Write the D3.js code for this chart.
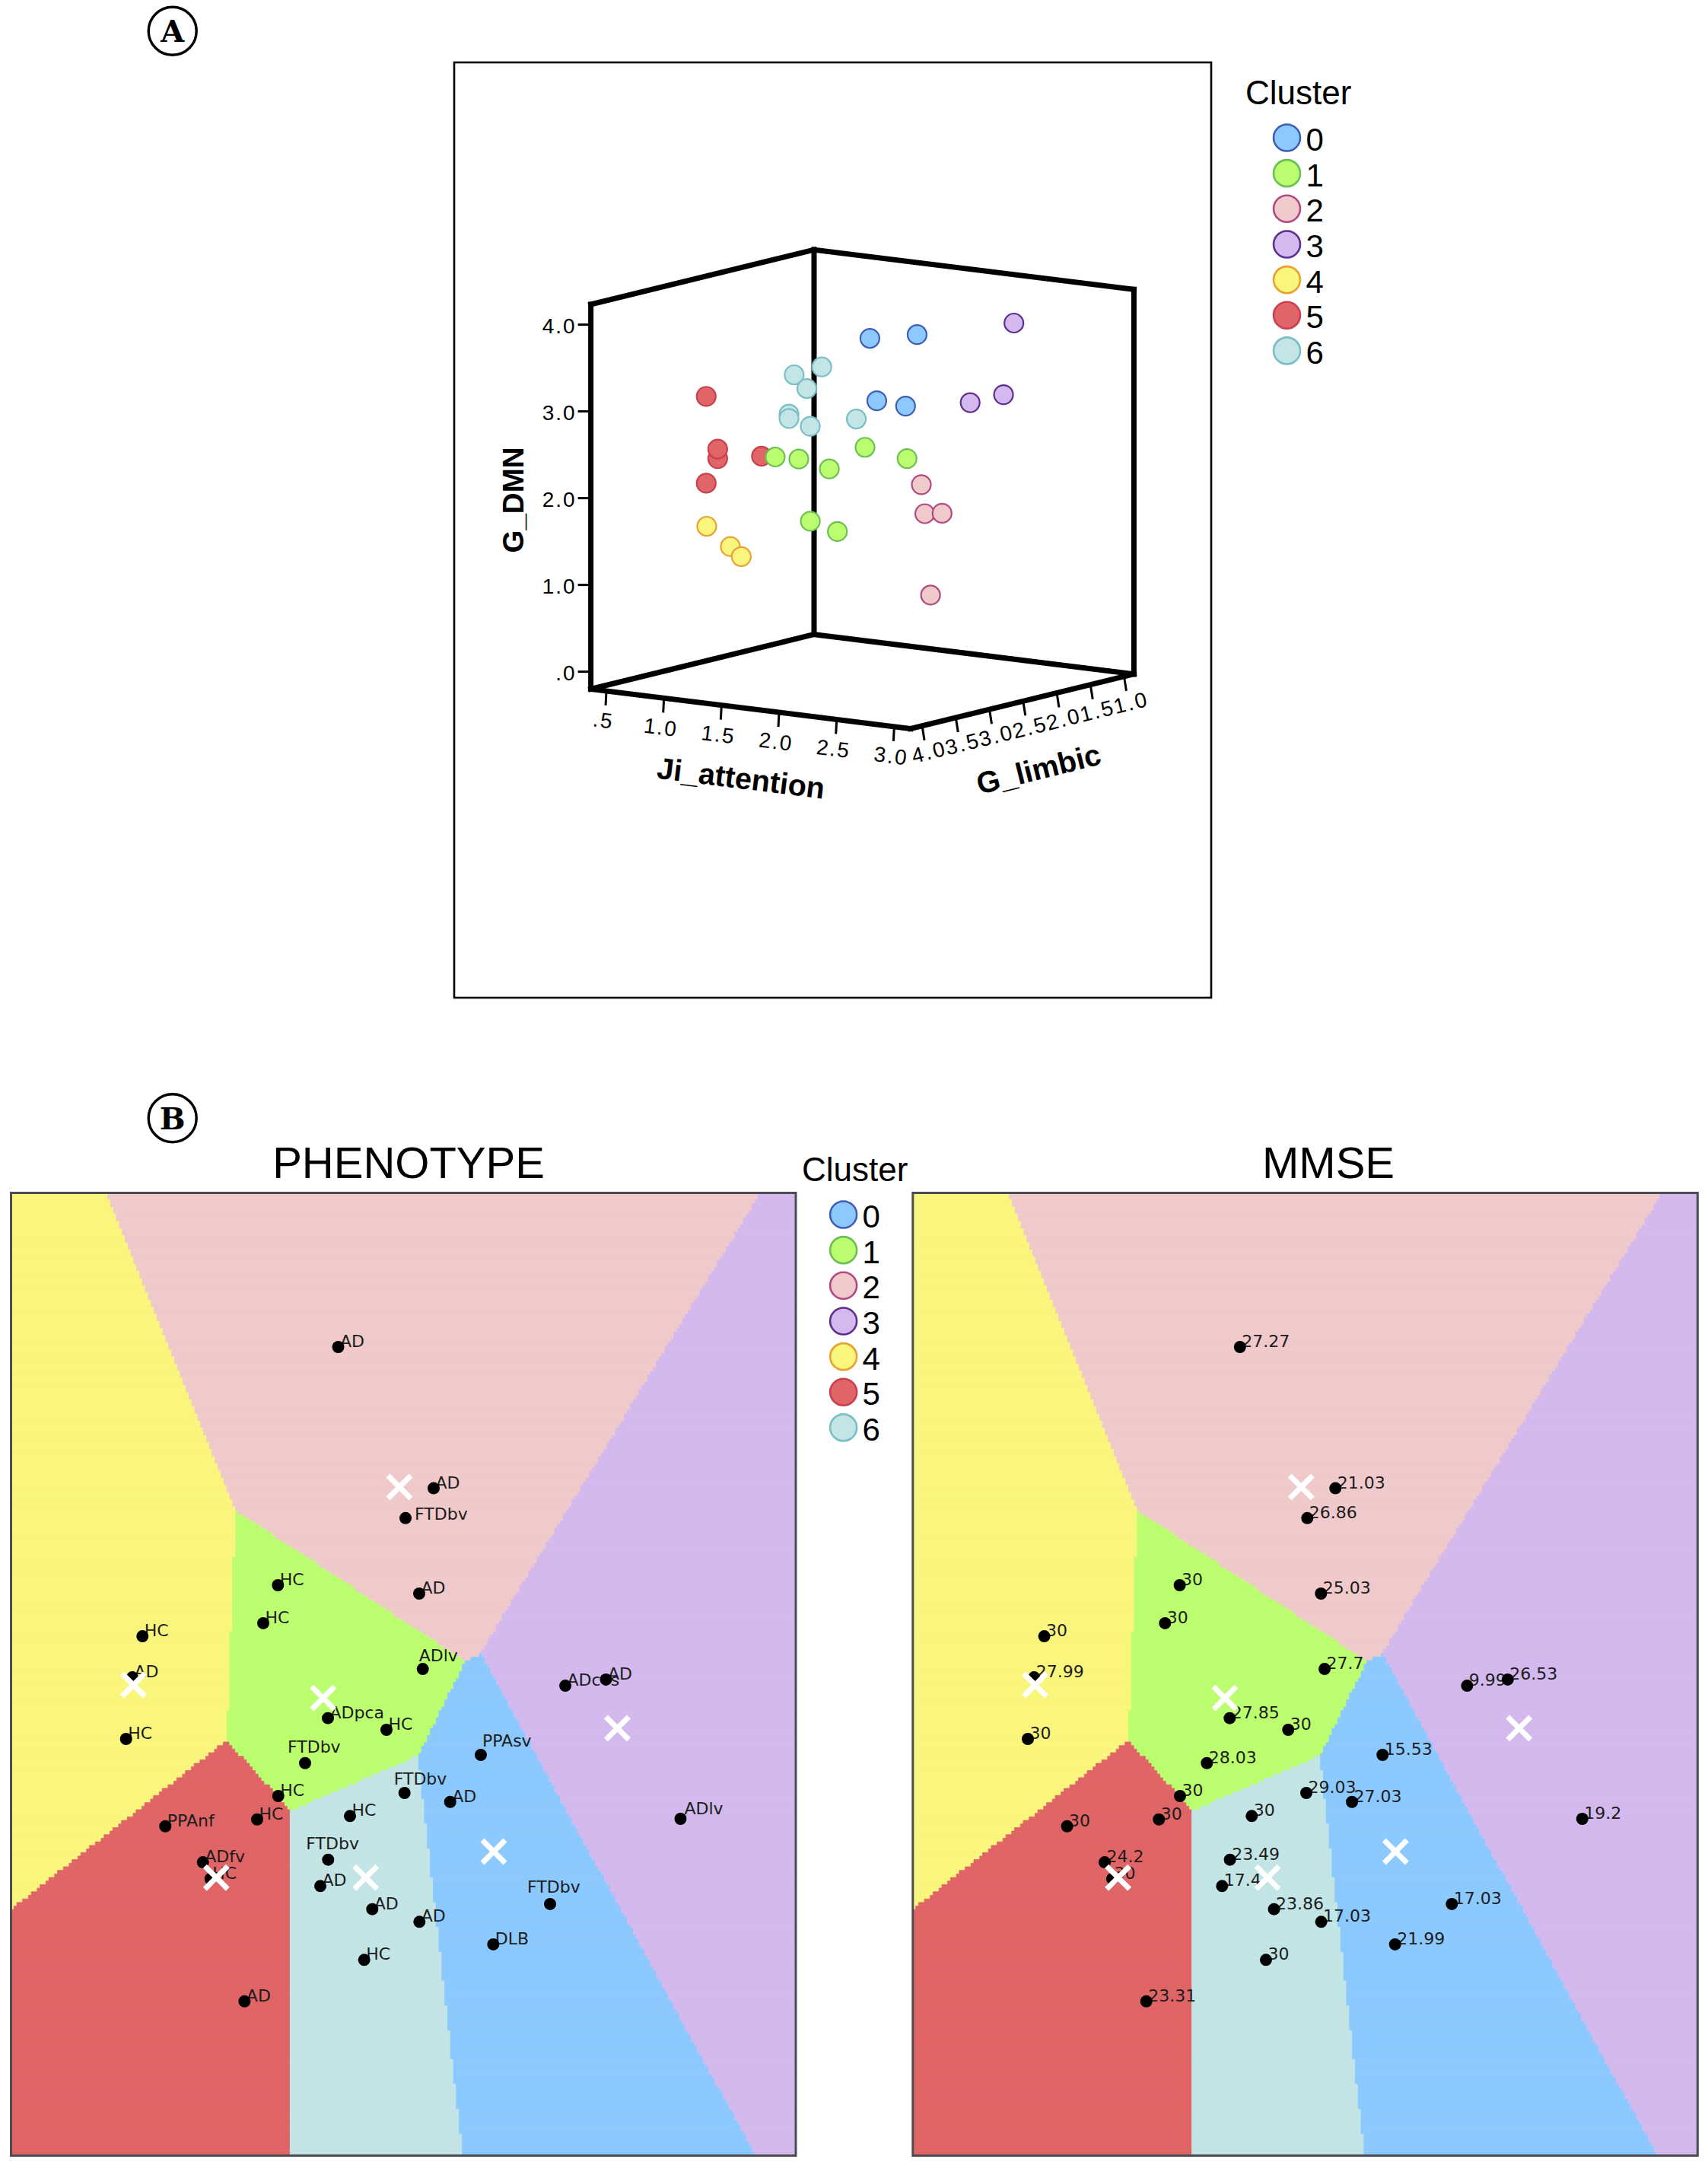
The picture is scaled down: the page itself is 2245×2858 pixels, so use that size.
<!DOCTYPE html>
<html><head><meta charset="utf-8">
<script src="https://cdn.jsdelivr.net/npm/d3@7/dist/d3.min.js"></script>
<style>html,body{margin:0;padding:0;background:#fff}svg{display:block}text{font-family:"Liberation Sans",Arial,sans-serif}</style>
</head><body><svg id="c" width="2245" height="2858" viewBox="0 0 2245 2858"></svg>
<script>
// ---------- data ----------
const clusterNames = [0,1,2,3,4,5,6];
const clusterFill   = ["#8CC9FF","#BBFF70","#F0CACB","#D3B9EE","#FAF67D","#E06566","#C3E5E6"];
const clusterStroke = ["#3F5FB5","#6DBF55","#B04A82","#5F2F90","#E8A232","#C9404F","#7BBFC6"];

// Panel A: 3D scatter
const scatterCluster   = [5,5,5,5,5,4,4,4,1,1,1,1,1,1,1,6,6,6,6,6,6,6,0,0,0,0,3,3,3,2,2,2,2];
const scatterAttention = [0.80,0.90,0.90,0.80,1.28,0.98,1.185,1.28,0.99,1.195,1.46,1.77,2.135,1.295,1.53,1.57,1.33,1.44,1.285,1.285,1.47,1.87,1.52,1.93,1.58,1.83,2.42,2.33,2.04,1.85,1.88,2.03,1.93];
const scatterLimbic    = [3.2,3.2,3.2,3.2,3.2,3.5,3.5,3.5,2.5,2.5,2.5,2.5,2.5,2.5,2.5,2.8,2.8,2.8,2.8,2.8,2.8,2.8,2.0,2.0,2.0,2.0,1.4,1.4,1.4,1.8,1.8,1.8,1.8];
const scatterDMN       = [3.06,2.36,2.47,2.06,2.45,1.65,1.45,1.35,2.26,2.27,2.20,2.50,2.43,1.57,1.49,3.45,3.32,3.18,2.86,2.81,2.75,2.90,3.62,3.73,2.91,2.89,3.83,2.99,2.85,1.95,1.62,1.65,0.69];
const attentionTicks = [0.5,1.0,1.5,2.0,2.5,3.0];
const attentionLabels = [".5","1.0","1.5","2.0","2.5","3.0"];
const limbicTicks = [4.0,3.5,3.0,2.5,2.0,1.5,1.0];
const limbicLabels = ["4.0","3.5","3.0","2.5","2.0","1.5","1.0"];
const dmnTicks = [0,1,2,3,4];
const dmnLabels = [".0","1.0","2.0","3.0","4.0"];

// Panel B: map coordinates of the subjects (0-100 map units)
const subjX = [41.69,53.85,50.27,52.01,34.01,32.14,16.75,15.46,14.66,52.47,40.38,47.84,37.47,34.05,31.36,19.66,24.45,25.42,50.14,55.96,43.19,40.41,39.41,46.03,52.04,45.00,29.75,59.86,70.63,75.81,85.31,68.69,61.45];
const subjY = [83.99,69.32,66.22,58.38,59.25,55.30,53.95,49.68,43.28,50.55,45.44,44.23,40.77,37.35,34.92,34.21,30.47,28.74,37.67,36.74,35.27,30.74,28.00,25.60,24.28,20.33,16.02,41.62,48.81,49.45,34.98,26.13,21.94];
const phenotype = ["AD","AD","FTDbv","AD","HC","HC","HC","AD","HC","ADlv","ADpca","HC","FTDbv","HC","HC","PPAnf","ADfv","HC","FTDbv","AD","HC","FTDbv","AD","AD","AD","HC","AD","PPAsv","ADcvs","AD","ADlv","FTDbv","DLB"];
const mmse = ["27.27","21.03","26.86","25.03","30","30","30","27.99","30","27.7","27.85","30","28.03","30","30","30","24.2","30","29.03","27.03","30","23.49","17.4","23.86","17.03","30","23.31","15.53","9.99","26.53","19.2","17.03","21.99"];
// label nudges (px) that differ from the default, by subject index
const phenoNudge = {2:[12,2],9:[-5,-10],12:[-23,-14],18:[-14,-11],21:[-29,-14],27:[2,-11],30:[5,-6],31:[-30,-15]};
const mmseNudge = {};
// k-means centres, cluster 0..6
const centreX = [61.51,39.77,49.49,77.26,15.59,26.16,45.20];
const centreY = [31.58,47.53,69.45,44.39,48.89,28.87,28.87];
const xMetricWeight = 1.10;
const meshSize = 270;

// ---------- drawing ----------
const svg = d3.select("#c");

function badge(letter,cx,cy){
  svg.append("circle").attr("cx",cx).attr("cy",cy).attr("r",31.5).attr("fill","#fff").attr("stroke","#000").attr("stroke-width",3.4);
  svg.append("text").attr("x",cx).attr("y",cy+14.5).attr("text-anchor","middle")
    .style("font-family","'DejaVu Serif'").style("font-weight","bold").style("font-size","40px").text(letter);
}
badge("A",226.7,40.7);
badge("B",226.7,1469.3);

function legend(x,titleX,titleY,firstY){
  svg.append("text").attr("x",titleX).attr("y",titleY).style("font-size","44px").text("Cluster");
  const ly = d3.scalePoint().domain(clusterNames).range([firstY,firstY+6*46.65]);
  const g = svg.append("g").selectAll("g").data(clusterNames).join("g").attr("transform",d=>`translate(${x},${ly(d)})`);
  g.append("circle").attr("r",17.5).attr("fill",d=>clusterFill[d]).attr("stroke",d=>clusterStroke[d]).attr("stroke-width",2.6);
  g.append("text").attr("x",25).attr("y",17).style("font-size","42px").text(d=>d);
}
legend(1691.5,1637,137,181);
legend(1108.6,1054,1552,1596);

// Panel A -------------------------------------------------
svg.append("rect").attr("x",597).attr("y",82).attr("width",995).attr("height",1229).attr("fill","#fff").attr("stroke","#000").attr("stroke-width",2.6);
const FL=[776.6,905.4], F=[1197,957.5], BK=[1070,833.6], TL=[776.6,400];
const xA=d3.scaleLinear().domain([0.365,3.143]).range([0,1]);
const zA=d3.scaleLinear().domain([4.17,0.854]).range([0,1]);
const yA=d3.scaleLinear().domain([-0.2,4.233]).range([0,1]);
function proj(x,z,y){
  const a=xA(x),b=zA(z),c=yA(y);
  return [FL[0]+a*(F[0]-FL[0])+b*(BK[0]-FL[0])+c*(TL[0]-FL[0]),
          FL[1]+a*(F[1]-FL[1])+b*(BK[1]-FL[1])+c*(TL[1]-FL[1])];
}
const [x0,x1]=xA.domain(),[z0,z1]=zA.domain(),[y0,y1]=yA.domain();
const boxEdges=[
 [[x0,z0,y0],[x1,z0,y0]],[[x1,z0,y0],[x1,z1,y0]],[[x1,z1,y0],[x0,z1,y0]],[[x0,z1,y0],[x0,z0,y0]],
 [[x0,z0,y0],[x0,z0,y1]],[[x0,z1,y0],[x0,z1,y1]],[[x1,z1,y0],[x1,z1,y1]],
 [[x0,z0,y1],[x0,z1,y1]],[[x0,z1,y1],[x1,z1,y1]]];
const A=svg.append("g");
A.selectAll("line.edge").data(boxEdges).join("line").attr("class","edge")
 .attr("x1",d=>proj(...d[0])[0]).attr("y1",d=>proj(...d[0])[1])
 .attr("x2",d=>proj(...d[1])[0]).attr("y2",d=>proj(...d[1])[1])
 .attr("stroke","#000").attr("stroke-width",7).attr("stroke-linecap","square");

const tickStyle=s=>s.attr("stroke","#000").attr("stroke-width",3);
const labelFont="28px";
// G_DMN ticks
tickStyle(A.selectAll("line.ty").data(dmnTicks).join("line").attr("class","ty")
 .attr("x1",d=>proj(x0,z0,d)[0]-17).attr("x2",d=>proj(x0,z0,d)[0])
 .attr("y1",d=>proj(x0,z0,d)[1]).attr("y2",d=>proj(x0,z0,d)[1]));
A.selectAll("text.ly").data(dmnTicks).join("text").attr("class","ly")
 .attr("x",d=>proj(x0,z0,d)[0]-19).attr("y",d=>proj(x0,z0,d)[1]+11).attr("text-anchor","end")
 .style("font-size",labelFont).style("letter-spacing","2px").text((d,i)=>dmnLabels[i]);
// Ji_attention ticks
tickStyle(A.selectAll("line.tx").data(attentionTicks).join("line").attr("class","tx")
 .attr("x1",d=>proj(d,z0,y0)[0]).attr("x2",d=>proj(d,z0,y0)[0]-1)
 .attr("y1",d=>proj(d,z0,y0)[1]).attr("y2",d=>proj(d,z0,y0)[1]+19));
A.selectAll("text.lx").data(attentionTicks).join("text").attr("class","lx")
 .attr("transform",d=>{const p=proj(d,z0,y0);return `translate(${p[0]-4},${p[1]+38}) rotate(7)`;})
 .attr("text-anchor","middle").attr("dy","0.36em").style("font-size",labelFont).style("letter-spacing","2px").text((d,i)=>attentionLabels[i]);
// G_limbic ticks
tickStyle(A.selectAll("line.tz").data(limbicTicks).join("line").attr("class","tz")
 .attr("x1",d=>proj(x1,d,y0)[0]).attr("x2",d=>proj(x1,d,y0)[0]+3)
 .attr("y1",d=>proj(x1,d,y0)[1]).attr("y2",d=>proj(x1,d,y0)[1]+19));
A.selectAll("text.lz").data(limbicTicks).join("text").attr("class","lz")
 .attr("transform",d=>{const p=proj(x1,d,y0);return `translate(${p[0]+9},${p[1]+34}) rotate(-14)`;})
 .attr("text-anchor","middle").attr("dy","0.36em").style("font-size",labelFont).style("letter-spacing","2.5px").text((d,i)=>limbicLabels[i]);
// axis titles
const title=(t,x,y,r,s)=>A.append("text").attr("transform",`translate(${x},${y}) rotate(${r})`).attr("text-anchor","middle")
  .attr("dy","0.36em").style("font-size",s+"px").style("font-weight","bold").text(t);
title("Ji_attention",974,1022,7,39.5);
title("G_limbic",1365,1010,-14,39.5);
title("G_DMN",674,657,-90,38.5);
// points
A.selectAll("circle.pt").data(d3.range(scatterCluster.length)).join("circle").attr("class","pt")
 .attr("cx",i=>proj(scatterAttention[i],scatterLimbic[i],scatterDMN[i])[0])
 .attr("cy",i=>proj(scatterAttention[i],scatterLimbic[i],scatterDMN[i])[1])
 .attr("r",12.5).attr("fill",i=>clusterFill[scatterCluster[i]]).attr("stroke",i=>clusterStroke[scatterCluster[i]]).attr("stroke-width",2.2);

// Panel B -------------------------------------------------
function nearest(x,y){
  let best=0,bd=Infinity;
  for(let k=0;k<centreX.length;k++){
    const dx=(x-centreX[k])*xMetricWeight,dy=y-centreY[k],dd=dx*dx+dy*dy;
    if(dd<bd){bd=dd;best=k;}
  }
  return best;
}
function mapPanel(left,titleText,titleCx,labels,nudge){
  const top=1567.5,w=1031.5,h=1265;
  const g=svg.append("g").attr("transform",`translate(${left},${top})`);
  const x=d3.scaleLinear().domain([0,100]).range([0,w]);
  const y=d3.scaleLinear().domain([0,100]).range([h,0]);
  // decision surface: nearest centre on a mesh, merged into runs per row
  const paths=clusterNames.map(()=>[]);
  const mx=d3.scaleLinear().domain([0,meshSize]).range([0,100]);
  for(let r=0;r<meshSize;r++){
    const yv=mx(r+0.5);
    let start=0,cur=nearest(mx(0.5),yv);
    for(let c=1;c<=meshSize;c++){
      const k=c<meshSize?nearest(mx(c+0.5),yv):-1;
      if(k!==cur){
        const X0=x(mx(start)),X1=x(mx(c)),Y0=y(mx(r+1)),Y1=y(mx(r));
        paths[cur].push(`M${X0.toFixed(1)},${Y0.toFixed(1)}H${X1.toFixed(1)}V${Y1.toFixed(1)}H${X0.toFixed(1)}Z`);
        start=c;cur=k;
      }
    }
  }
  g.selectAll("path.cell").data(clusterNames).join("path").attr("class","cell")
    .attr("d",k=>paths[k].join("")).attr("fill",k=>clusterFill[k]).attr("stroke",k=>clusterFill[k]).attr("stroke-width",0.8);
  g.append("rect").attr("width",w).attr("height",h).attr("fill","none").attr("stroke","#4c4c54").attr("stroke-width",3);
  const idx=d3.range(subjX.length);
  g.selectAll("text.lab").data(idx).join("text").attr("class","lab")
    .attr("x",i=>x(subjX[i])+(nudge[i]?nudge[i][0]:2.5)).attr("y",i=>y(subjY[i])+(nudge[i]?nudge[i][1]:0))
    .style("font-family","'DejaVu Sans'").style("font-size","22px").attr("fill","#1c1c1c").text(i=>labels[i]);
  g.selectAll("circle.dot").data(idx).join("circle").attr("class","dot")
    .attr("cx",i=>x(subjX[i])).attr("cy",i=>y(subjY[i])).attr("r",8).attr("fill","#000");
  const ms=15;
  const xg=g.selectAll("g.cen").data(clusterNames).join("g").attr("class","cen")
    .attr("transform",k=>`translate(${x(centreX[k])},${y(centreY[k])})`);
  xg.append("line").attr("x1",-ms).attr("y1",-ms).attr("x2",ms).attr("y2",ms);
  xg.append("line").attr("x1",-ms).attr("y1",ms).attr("x2",ms).attr("y2",-ms);
  xg.selectAll("line").attr("stroke","#fff").attr("stroke-width",7);
  svg.append("text").attr("x",titleCx).attr("y",1548).attr("text-anchor","middle").style("font-size","58px").attr("fill","#000").text(titleText);
}
mapPanel(14.5,"PHENOTYPE",537,phenotype,phenoNudge);
mapPanel(1199.8,"MMSE",1746,mmse,mmseNudge);
</script></body></html>
